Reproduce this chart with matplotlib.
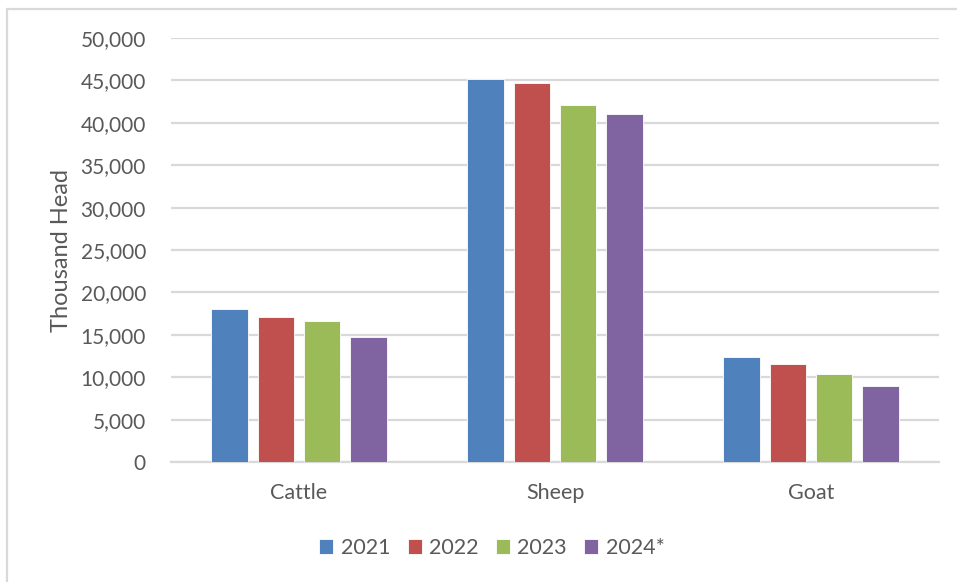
import matplotlib
matplotlib.use("Agg")
import matplotlib.pyplot as plt
from matplotlib.patches import Rectangle
from matplotlib.ticker import FuncFormatter, MultipleLocator
import numpy as np

categories = ["Cattle", "Sheep", "Goat"]
years = ["2021", "2022", "2023", "2024*"]
v2021 = [18050, 45150, 12400]
v2022 = [17050, 44650, 11600]
v2023 = [16600, 42050, 10350]
v2024 = [14700, 41000, 9000]
series = [v2021, v2022, v2023, v2024]
colors = ["#4F81BD", "#C0504D", "#9BBB59", "#8064A2"]

plt.rcParams['font.family'] = ['Lato', 'DejaVu Sans']
txt = "#595959"
grid = "#D9D9D9"

fig = plt.figure(figsize=(9.57, 5.82), dpi=100)
W, H = 957, 582
ax = fig.add_axes([171 / W, 1 - 462 / H, (939 - 171) / W, (462 - 38) / H])

# outer chart border
fig.patches.append(Rectangle((7.5 / W, -0.1), 1.2, 1 - 8.5 / H + 0.1, transform=fig.transFigure,
                             fill=False, edgecolor=grid, linewidth=1.6))

x = np.arange(len(categories))
width = 0.1445
step = 0.1797
for i, (vals, c, lab) in enumerate(zip(series, colors, years)):
    ax.bar(x + (i - 1.5) * step, vals, width, color=c, label=lab,
           edgecolor="#FFFFFF", linewidth=0.6, zorder=3)

ax.set_xlim(-0.5, 2.5)
ax.set_ylim(0, 50000)
ax.yaxis.set_major_locator(MultipleLocator(5000))
ax.yaxis.set_major_formatter(FuncFormatter(lambda v, p: f"{int(v):,}"))
ax.grid(axis="y", color=grid, linewidth=1.6, zorder=0)
ax.set_axisbelow(True)
for s in ["top", "right", "left"]:
    ax.spines[s].set_visible(False)
ax.spines["bottom"].set_color(grid)
ax.spines["bottom"].set_linewidth(1.6)
ax.set_xticks(x)
ax.set_xticklabels(categories)
ax.tick_params(axis="y", length=0, labelsize=15, colors=txt, pad=18)
ax.tick_params(axis="x", length=0, labelsize=15.5, colors=txt, pad=15)
ax.set_ylabel("Thousand Head", fontsize=17, color=txt, labelpad=6)

leg = fig.legend(loc="center", bbox_to_anchor=(492 / W, 1 - 548 / H), ncol=4, frameon=False,
                 fontsize=15.5, handlelength=0.65, handleheight=0.65, handletextpad=0.35,
                 columnspacing=0.8)
for t in leg.get_texts():
    t.set_color(txt)

fig.savefig("out.png", dpi=100)
